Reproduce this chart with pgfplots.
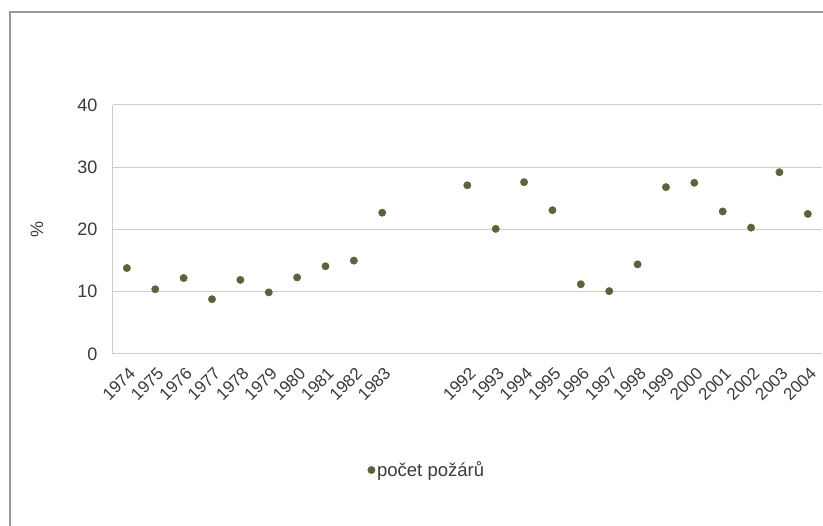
\documentclass[border=0pt]{standalone}
\usepackage{fontspec}
\setmainfont{Liberation Sans}
\usepackage{pgfplots}
\pgfplotsset{compat=1.18}
\definecolor{dotc}{HTML}{55663A}
\definecolor{gridc}{HTML}{CDCDC2}
\definecolor{txt}{HTML}{3A3A3A}
\definecolor{framec}{HTML}{9A9A92}
\begin{document}
\begin{tikzpicture}[x=1pt,y=1pt]
\useasboundingbox (0,0) rectangle (823,526);
\draw[color=framec, line width=1.2pt] (10,-5) -- (10,514) -- (830,514);
\begin{axis}[
  at={(112.7pt,172pt)}, anchor=south west,
  scale only axis, width=709.3pt, height=249pt,
  xmin=-0.5, xmax=24.5, ymin=0, ymax=40,
  ytick={0,10,20,30,40},
  xtick={0,1,2,3,4,5,6,7,8,9,12,13,14,15,16,17,18,19,20,21,22,23,24},
  xticklabels={1974,1975,1976,1977,1978,1979,1980,1981,1982,1983,1992,1993,1994,1995,1996,1997,1998,1999,2000,2001,2002,2003,2004},
  axis x line*=bottom, axis y line*=left,
  axis line style={draw=gridc, line width=1pt, -},
  ymajorgrids, grid style={draw=gridc, line width=1pt},
  major tick length=0pt,
  tick label style={text=txt},
  /pgf/number format/assume math mode=true,
  yticklabel style={font=\fontsize{18}{21}\selectfont, inner sep=0pt, anchor=east, xshift=-15pt},
  xticklabel style={font=\fontsize{17}{20}\selectfont, xshift=1pt, yshift=-12pt, rotate=45, anchor=north east, inner sep=0pt},
  ylabel={\%},
  ylabel style={at={(axis description cs:-0.107,0.5)}, anchor=center, rotate=0, font=\fontsize{18}{21}\selectfont, text=txt},
  legend style={at={(axis description cs:0.443,-0.466)}, anchor=center, draw=none, fill=none,
    font=\fontsize{18.5}{21}\selectfont, text=txt, inner sep=0pt,
    nodes={inner sep=2pt}},
  legend cell align=left,
  clip=false,
]
\addplot[only marks, mark=*, mark size=3.7pt, color=dotc] coordinates {
  (0,13.8) (1,10.4) (2,12.2) (3,8.8) (4,11.9) (5,9.9) (6,12.3) (7,14.1) (8,15.0) (9,22.7)
  (12,27.1) (13,20.1) (14,27.6) (15,23.1) (16,11.2) (17,10.1) (18,14.4) (19,26.8)
  (20,27.5) (21,22.9) (22,20.3) (23,29.2) (24,22.5)
};
\addlegendentry{počet požárů}
\end{axis}
\end{tikzpicture}
\end{document}
